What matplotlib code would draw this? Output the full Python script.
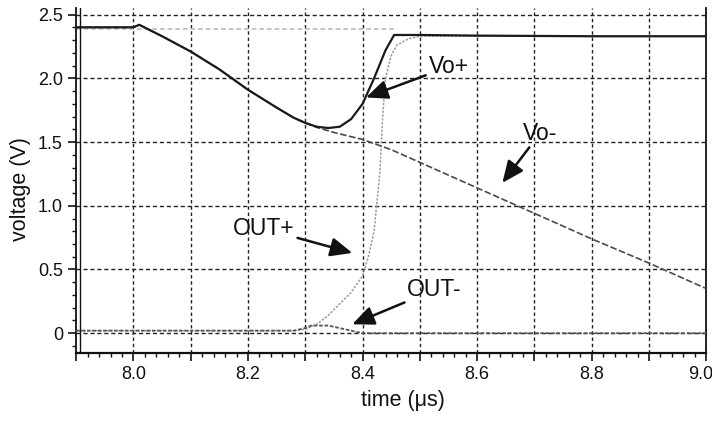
import matplotlib
matplotlib.use("Agg")
import matplotlib.pyplot as plt
from matplotlib.ticker import MultipleLocator, FuncFormatter
from matplotlib.lines import Line2D
from matplotlib.transforms import ScaledTranslation

plt.rcParams["font.family"] = ["Liberation Sans", "DejaVu Sans"]

# Vo+ : falls with Vo-, then regenerates back to the rail
t_vop = [7.90, 8.00, 8.01, 8.05, 8.10, 8.15, 8.20, 8.25, 8.28, 8.30, 8.32, 8.34,
         8.36, 8.38, 8.40, 8.42, 8.44, 8.455, 8.50, 8.60, 8.80, 9.00]
v_vop = [2.40, 2.40, 2.42, 2.33, 2.21, 2.07, 1.91, 1.77, 1.69, 1.65, 1.62, 1.61,
         1.62, 1.68, 1.80, 2.00, 2.22, 2.34, 2.34, 2.335, 2.33, 2.33]

# Vo- : keeps discharging after the split
t_vom = [7.90, 8.00, 8.01, 8.05, 8.10, 8.15, 8.20, 8.25, 8.28, 8.30, 8.32, 8.35,
         8.40, 8.45, 8.50, 8.60, 8.70, 8.80, 8.90, 9.00]
v_vom = [2.40, 2.40, 2.42, 2.33, 2.21, 2.07, 1.91, 1.77, 1.69, 1.65, 1.615, 1.575,
         1.52, 1.44, 1.34, 1.14, 0.94, 0.74, 0.55, 0.35]

# OUT+ : buffered output switching high
t_outp = [7.90, 8.28, 8.30, 8.32, 8.34, 8.36, 8.38, 8.40, 8.41, 8.42, 8.43, 8.435,
          8.44, 8.45, 8.46, 8.48, 8.50, 9.00]
v_outp = [0.02, 0.02, 0.03, 0.07, 0.14, 0.23, 0.32, 0.45, 0.60, 0.80, 1.25, 1.70,
          2.00, 2.18, 2.26, 2.31, 2.33, 2.33]

# OUT- : stays low with a small glitch
t_outm = [7.90, 8.28, 8.30, 8.31, 8.34, 8.37, 8.40, 9.00]
v_outm = [0.02, 0.02, 0.04, 0.06, 0.06, 0.03, 0.00, 0.00]

# precharge level
t_pre = [7.90, 8.46]
v_pre = [2.385, 2.385]

fig = plt.figure(figsize=(7.12, 4.21), dpi=100)
ax = fig.add_axes([0.107, 0.161, 0.885, 0.821])

ax.set_xlim(7.9, 9.0)
ax.set_ylim(-0.157, 2.555)

# grid
for x in [8.0 + 0.1 * i for i in range(10)]:
    ax.axvline(x, color="#222222", lw=1.0, ls=(0, (2.5, 2.0)), zorder=1)
for y in [0.0, 0.5, 1.0, 1.5, 2.0, 2.5]:
    ax.axhline(y, color="#222222", lw=1.0, ls=(0, (3.0, 2.0)), zorder=1)

ax.plot(t_pre, v_pre, color="#b5b5b5", lw=1.1, ls=(0, (3, 2)), zorder=2)
ax.plot(t_outp, v_outp, color="#9a9a9a", lw=1.1, ls=(0, (1.5, 1.0)), zorder=3)
ax.plot(t_outm, v_outm, color="#555555", lw=1.3, ls=(0, (2, 1)), zorder=3)
ax.plot(t_vom, v_vom, color="#4a4a4a", lw=1.2, ls=(0, (4, 1.5)), zorder=4)
ax.plot(t_vop, v_vop, color="#1a1a1a", lw=1.6, zorder=5)

# spines
ax.spines["top"].set_visible(False)
for s in ["left", "bottom", "right"]:
    ax.spines[s].set_color("#111111")
ax.spines["left"].set_linewidth(1.3)
ax.spines["bottom"].set_linewidth(1.6)
ax.spines["right"].set_linewidth(1.3)
ax.add_line(Line2D([0.006, 0.006], [0, 1], transform=ax.transAxes,
                   color="#111111", lw=1.0, zorder=6))

# ticks
ax.xaxis.set_major_locator(MultipleLocator(0.1))
ax.xaxis.set_minor_locator(MultipleLocator(0.02))
ax.xaxis.set_major_formatter(FuncFormatter(
    lambda v, p: f"{v:.1f}" if round(v * 10) % 2 == 0 else ""))
ax.yaxis.set_major_locator(MultipleLocator(0.5))
ax.yaxis.set_minor_locator(MultipleLocator(0.1))
ax.yaxis.set_major_formatter(FuncFormatter(
    lambda v, p: "0" if abs(v) < 1e-9 else f"{v:.1f}"))
ax.tick_params(axis="both", which="major", direction="out", length=6, width=1.2,
               labelsize=13, colors="#111111")
ax.tick_params(axis="both", which="minor", direction="out", length=3, width=1.0,
               colors="#111111")

# keep the last x label inside the canvas
fig.canvas.draw()
for lbl in ax.get_xticklabels():
    if lbl.get_text() == "9.0":
        lbl.set_horizontalalignment("right")
        lbl.set_transform(lbl.get_transform() +
                          ScaledTranslation(5 / 72, 0, fig.dpi_scale_trans))

ax.set_xlabel("time (\u03bcs)", fontsize=15.5, color="#111111")
ax.set_ylabel("voltage (V)", fontsize=15.5, color="#111111")
ax.xaxis.set_label_coords(0.519, -0.105)
ax.yaxis.set_label_coords(-0.072, 0.474)

arrow = dict(arrowstyle="-|>,head_length=0.8,head_width=0.35", color="#111111",
             lw=1.8, shrinkA=0, shrinkB=0)
ax.annotate("Vo+", xy=(8.406, 1.85), xytext=(8.515, 2.09), fontsize=16.5,
            va="center", ha="left", arrowprops=arrow, color="#111111")
ax.annotate("Vo-", xy=(8.644, 1.18), xytext=(8.68, 1.57), fontsize=16.5,
            va="center", ha="left", arrowprops=arrow, color="#111111")
ax.annotate("OUT+", xy=(8.382, 0.63), xytext=(8.174, 0.82), fontsize=16.5,
            va="center", ha="left", arrowprops=arrow, color="#111111")
ax.annotate("OUT-", xy=(8.382, 0.07), xytext=(8.478, 0.34), fontsize=16.5,
            va="center", ha="left", arrowprops=arrow, color="#111111")

fig.savefig("out.png", dpi=100)
